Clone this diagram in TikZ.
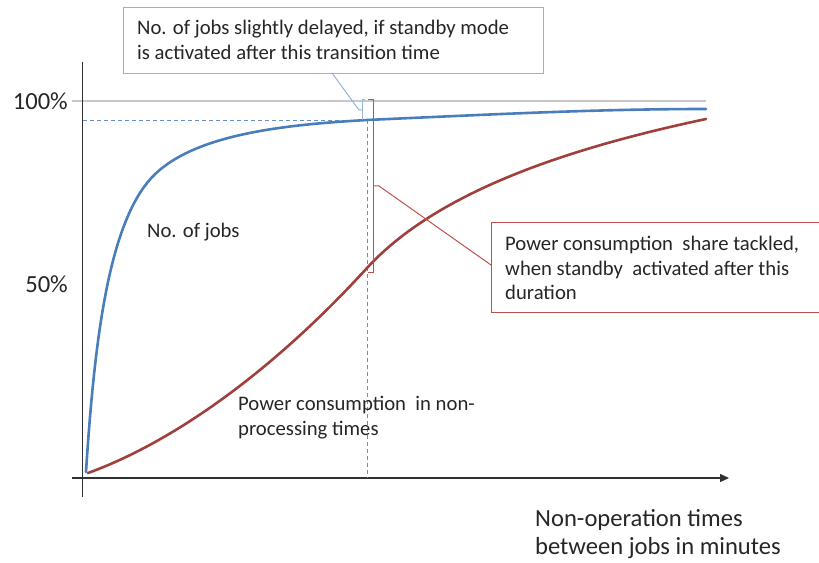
\documentclass[tikz,border=0pt]{standalone}
\usepackage{fontspec}
\setmainfont{Carlito}
\usetikzlibrary{arrows.meta}
\definecolor{jobblue}{HTML}{4A7EBB}
\definecolor{powred}{HTML}{A0403D}
\definecolor{calloutred}{HTML}{C0504D}
\definecolor{calloutblue}{HTML}{95B3D7}
\definecolor{gridgray}{HTML}{C8C8C8}
\definecolor{axisgray}{HTML}{303030}
\definecolor{txt}{HTML}{262626}
\tikzset{
  axisline/.style={draw=axisgray, line width=1.3bp},
  curveline/.style={line width=2.6bp, line cap=round},
  guide/.style={draw=jobblue!85, line width=0.9bp, dash pattern=on 4bp off 3bp},
  lbl/.style={text=txt, font=\fontsize{20.7bp}{24.8bp}\selectfont, inner sep=0pt, align=left},
  biglbl/.style={text=txt, font=\fontsize{24.6bp}{28bp}\selectfont, inner sep=0pt, align=left},
  bluebox/.style={draw=calloutblue, line width=1bp, fill=white},
  redbox/.style={draw=calloutred, line width=1bp, fill=white},
}
\begin{document}
\begin{tikzpicture}[x=1bp, y=-1bp]
\useasboundingbox (0,0) rectangle (819,563);
\clip (0,0) rectangle (819,563);
% gridline 100%
\draw[gridgray, line width=1.3bp] (72,101) -- (706,101);
% axes
\draw[axisline] (82.5,62) -- (82.5,497);
\draw[axisline, -{Triangle[length=9bp,width=8bp]}] (72,478) -- (729,478);
% tick labels
\node[biglbl, anchor=east] (l100) at (68,101) {100\%};
\node[biglbl, anchor=east] (l50) at (68,284) {50\%};
% dashed guides
\draw[guide] (83,120) -- (367,120);
\draw[guide] (367,120) -- (367,478);
% curves
\draw[curveline, powred] (88,473) .. controls (160,447) and (260,385) .. (367,268)
  .. controls (435,194) and (560,150) .. (706,119);
\draw[curveline, jobblue] (86,472) .. controls (95,330) and (110,230) .. (147,183)
  .. controls (185,135) and (280,125) .. (367,120)
  .. controls (500,114) and (600,109) .. (706,109);
% curve labels
\node[lbl, anchor=west] (jobs) at (147,232) {No. of jobs};
\node[lbl, anchor=west] (power) at (238,418) {Power consumption\ \ in non-\\processing times};
\node[biglbl, anchor=west] (xlab) at (535,534) {Non-operation times\\between jobs in minutes};
% blue callout
\node[bluebox, minimum width=420bp, minimum height=66bp, anchor=north west] (bbox) at (123,7) {};
\node[lbl, anchor=west] (btext) at (137,39.5) {No. of jobs slightly delayed, if standby mode\\is activated after this transition time};
\coordinate (bl) at (332,73);
\coordinate (bk) at (359,110);
\coordinate (bm) at (362,110);
\draw[calloutblue, line width=1bp] (bl) -- (bk) -- (bm);
\draw[calloutblue, line width=1bp] (365,100) -- (362,100) -- (362,120);
% red callout
\node[redbox, minimum width=340bp, minimum height=90bp, anchor=north west] (rbox) at (491,222) {};
\node[lbl, anchor=west] (rtext) at (505,268) {Power consumption\ \ share tackled,\\when standby\ \ activated after this\\duration};
\coordinate (rl) at (491,265);
\coordinate (rk) at (379,186);
\coordinate (rm) at (373,186);
\draw[calloutred, line width=1bp] (rl) -- (rk) -- (rm);
\draw[calloutred, line width=1bp] (368,100) -- (373,100) -- (373,272) -- (368,272);
\end{tikzpicture}
\end{document}
